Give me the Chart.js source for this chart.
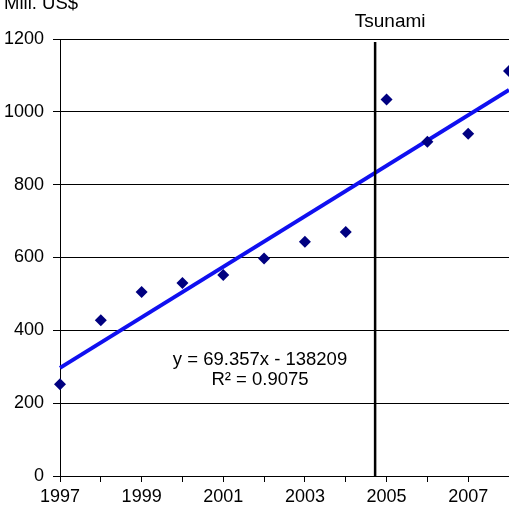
<!DOCTYPE html>
<html>
<head>
<meta charset="utf-8">
<script src="https://cdn.jsdelivr.net/npm/chart.js@4"></script>
<style>
  html, body { margin: 0; padding: 0; background: #fff; }
  #wrap { width: 509px; height: 518px; position: relative; }
</style>
</head>
<body>
<div id="wrap"><canvas id="chartExport"></canvas></div>
<script>
var years = [1997, 1998, 1999, 2000, 2001, 2002, 2003, 2004, 2005, 2006, 2007, 2008];
var exportValues = [252, 428, 505, 530, 552, 597, 643, 670, 1034, 918, 940, 1112];
var trendYears = [1997, 2008];
var trendValues = [297, 1060];
var tsunamiYear = 2004.72;
var yTicks = [0, 200, 400, 600, 800, 1000, 1200];
var unitLabel = 'Mill. US$';
var equationLines = ['y = 69.357x - 138209', 'R\u00b2 = 0.9075'];

var fontFam = '"Liberation Sans", Arial, sans-serif';
Chart.defaults.font.family = fontFam;
Chart.defaults.color = '#000';

var points = [];
for (var i in years) {
  points.push({ x: years[i], y: exportValues[i] });
}
var trend = [];
for (var j in trendYears) {
  trend.push({ x: trendYears[j], y: trendValues[j] });
}

var extras = {
  id: 'extras',
  afterDatasetsDraw: function (chart) {
    var ctx = chart.ctx;
    var area = chart.chartArea;
    var xs = chart.scales.x;
    var px = xs.getPixelForValue(tsunamiYear);
    ctx.save();
    ctx.strokeStyle = '#000';
    ctx.lineWidth = 2.5;
    ctx.beginPath();
    ctx.moveTo(px, area.top + 3);
    ctx.lineTo(px, area.bottom);
    ctx.stroke();

    ctx.fillStyle = '#000';
    ctx.textAlign = 'center';
    ctx.textBaseline = 'middle';
    ctx.font = '19px ' + fontFam;
    ctx.fillText('Tsunami', px + 15, 22);

    ctx.font = '18.5px ' + fontFam;
    ctx.fillText(equationLines[0], 260, 360);
    ctx.fillText(equationLines[1], 260, 380);

    ctx.textAlign = 'left';
    ctx.fillText(unitLabel, 4, 4);
    ctx.restore();
  }
};

new Chart(document.getElementById('chartExport'), {
  type: 'scatter',
  data: {
    datasets: [{
      label: 'Export',
      data: points,
      pointStyle: 'rectRot',
      pointRadius: 6,
      pointHoverRadius: 6,
      backgroundColor: '#000080',
      borderColor: '#000080',
      borderWidth: 0,
      order: 1
    }, {
      label: 'Trend',
      data: trend,
      showLine: true,
      borderColor: '#1010f0',
      borderWidth: 4,
      pointRadius: 0,
      order: 2
    }]
  },
  options: {
    responsive: true,
    maintainAspectRatio: false,
    animation: false,
    clip: false,
    plugins: {
      legend: { display: false },
      tooltip: { enabled: false }
    },
    layout: {
      autoPadding: false,
      padding: { left: 0, right: 0, top: 39, bottom: 0 }
    },
    scales: {
      x: {
        type: 'linear',
        min: 1997,
        max: 2008,
        afterFit: function (s) { s.height = 42; s.paddingRight = 0; },
        border: { color: '#000', width: 1 },
        grid: {
          drawOnChartArea: false,
          drawTicks: true,
          tickLength: 6,
          color: '#000'
        },
        ticks: {
          stepSize: 1,
          autoSkip: false,
          maxRotation: 0,
          padding: 4,
          font: { size: 18 },
          callback: function (v) {
            return (v % 2 === 1) ? String(v) : '';
          }
        }
      },
      y: {
        min: 0,
        max: 1200,
        afterFit: function (s) { s.width = 60; },
        afterBuildTicks: function (s) {
          s.ticks = yTicks.map(function (v) { return { value: v }; });
        },
        border: { color: '#000', width: 1 },
        grid: {
          color: '#000',
          lineWidth: 1,
          tickLength: 7
        },
        ticks: {
          padding: 9,
          font: { size: 18 },
          callback: function (v) { return String(v); }
        }
      }
    }
  },
  plugins: [extras]
});
</script>
</body>
</html>
